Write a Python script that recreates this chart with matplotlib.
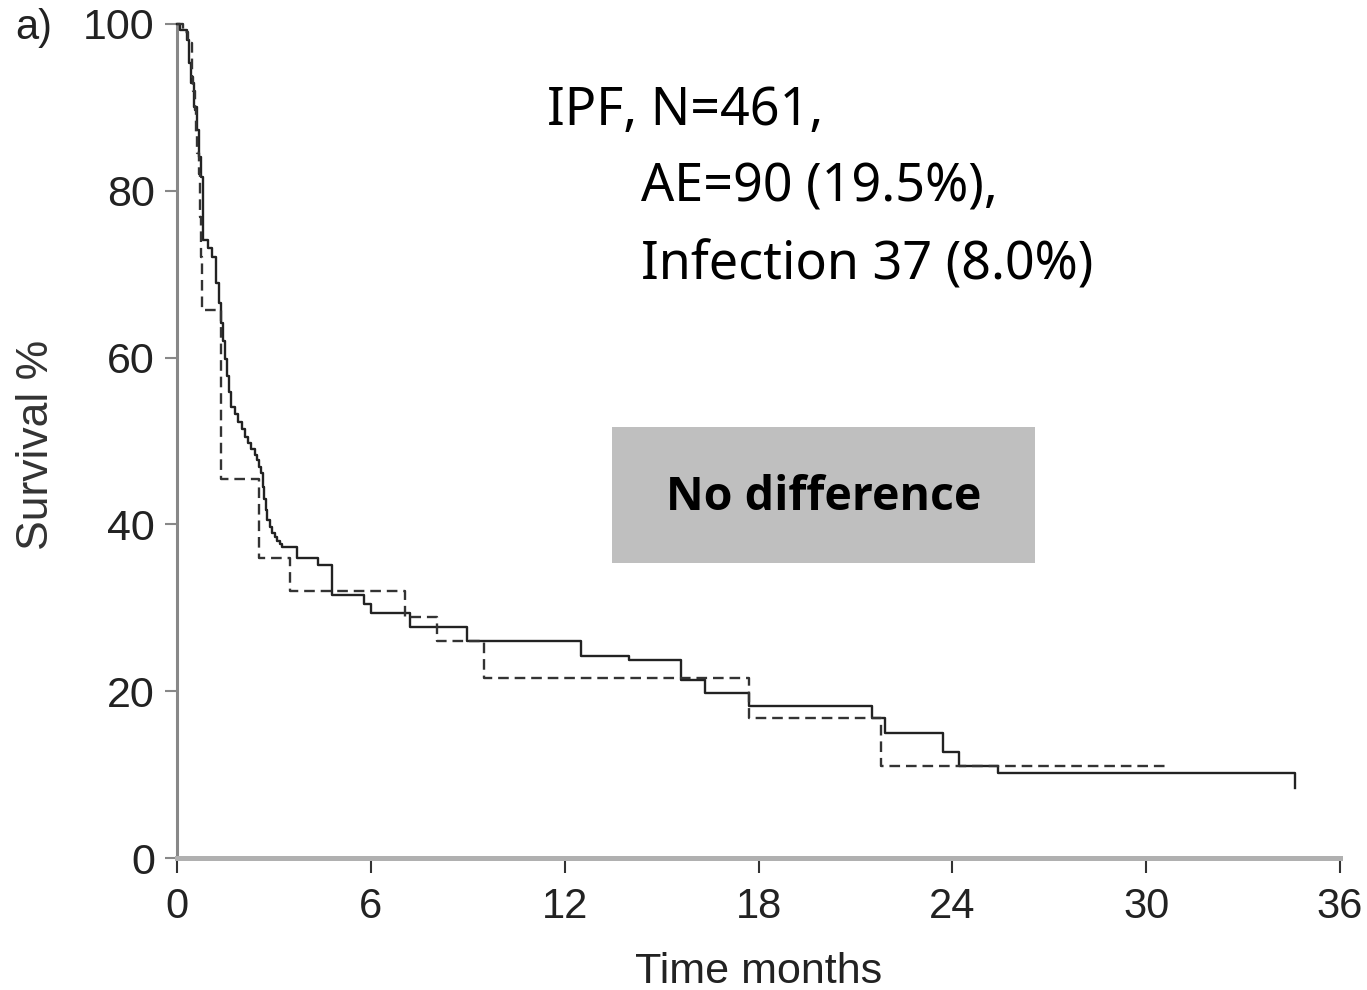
import matplotlib.pyplot as plt
from matplotlib.patches import Rectangle

# Kaplan-Meier style survival (%), values hold from each time until the next
ae_months = [0, 0.1, 0.3, 0.37, 0.44, 0.53, 0.62, 0.69, 0.75, 0.79, 0.8, 0.95,
             1.08, 1.2, 1.3, 1.37, 1.42, 1.48, 1.55, 1.61, 1.67, 1.78, 1.9, 2.0,
             2.1, 2.2, 2.3, 2.4, 2.48, 2.55, 2.6, 2.65, 2.7, 2.75, 2.79, 2.87,
             2.95, 3.03, 3.1, 3.18, 3.25, 3.7, 4.37, 4.8, 5.8, 6.0, 7.2, 8.98,
             12.5, 14.0, 15.6, 16.35, 17.7, 21.5, 21.9, 23.7, 24.2, 25.4, 34.6,
             34.6]
ae_surv = [100, 99.3, 98.1, 95.3, 92.9, 90.0, 87.3, 84.1, 81.7, 76.9, 74.1, 73.1,
           72.1, 68.9, 66.5, 64.1, 62.0, 59.8, 57.8, 55.9, 54.1, 53.2, 52.3, 51.4,
           50.5, 49.8, 49.0, 48.3, 47.7, 46.9, 46.2, 44.5, 43.0, 41.7, 40.5, 39.7,
           39.0, 38.5, 38.0, 37.6, 37.3, 36.0, 35.1, 31.5, 30.5, 29.4, 27.7, 26.0,
           24.2, 23.7, 21.3, 19.8, 18.2, 16.8, 15.0, 12.7, 11.0, 10.2, 10.2,
           8.4]

inf_months = [0, 0.2, 0.34, 0.45, 0.5, 0.56, 0.6, 0.63, 0.67, 0.7, 0.72, 0.74,
              0.77, 0.78, 1.36, 2.54, 3.5, 7.06, 8.05, 9.5, 17.7, 21.8, 30.6]
inf_surv = [100, 99.0, 97.7, 93.6, 92.0, 89.7, 87.0, 84.5, 82.0, 79.0, 76.9, 72.1,
            69.0, 65.7, 45.5, 36.0, 32.0, 28.9, 26.0, 21.6, 16.8, 11.0, 11.0]

xticks = [0, 6, 12, 18, 24, 30, 36]
yticks = [0, 20, 40, 60, 80, 100]

plt.rcParams['font.family'] = ['Liberation Sans', 'DejaVu Sans']

fig = plt.figure(figsize=(13.67, 9.9), dpi=100)
ax = fig.add_axes([0.1295, 0.1333, 0.8508, 0.8425])

ax.step(ae_months, ae_surv, where='post', color='#222222', lw=1.7,
        clip_on=False, zorder=3)
ax.step(inf_months, inf_surv, where='post', color='#333333', lw=1.7,
        dashes=(4.5, 2.5), clip_on=False, zorder=3)

ax.set_xlim(0, 36)
ax.set_ylim(0, 100)
ax.set_xticks(xticks)
ax.set_yticks(yticks)

for s in ['top', 'right']:
    ax.spines[s].set_visible(False)
ax.spines['left'].set_color('#888888')
ax.spines['left'].set_linewidth(2.2)
ax.spines['bottom'].set_color('#b0b0b0')
ax.spines['bottom'].set_linewidth(3.6)

ax.tick_params(axis='y', length=9, width=1.5, color='#888888', pad=7,
               labelsize=31, labelcolor='#222222')
ax.tick_params(axis='x', length=11, width=1.5, color='#333333', pad=10,
               labelsize=30, labelcolor='#222222')

ax.set_xlabel('Time months', fontsize=31, color='#222222')
ax.xaxis.set_label_coords(0.5, -0.113)
ax.set_ylabel('Survival %', fontsize=32, color='#333333')
ax.yaxis.set_label_coords(-0.103, 0.495)

fig.text(0.011, 0.972, 'a)', fontsize=30, color='#222222', va='center')

# summary text
ann = dict(fontsize=37.5, family=['Noto Sans', 'DejaVu Sans'], color='black')
fig.text(0.400, 0.874, 'IPF, N=461,', ha='left', va='baseline', **ann)
fig.text(0.469, 0.796, 'AE=90 (19.5%),', ha='left', va='baseline', **ann)
fig.text(0.469, 0.718, 'Infection 37 (8.0%)', ha='left', va='baseline', **ann)

# grey label box
box = Rectangle((612 / 1367, 1 - 563 / 990), (1035 - 612) / 1367, (563 - 427) / 990,
                transform=fig.transFigure, facecolor='#bfbfbf', edgecolor='none',
                zorder=1)
fig.patches.append(box)
fig.text(824 / 1367, 1 - 498 / 990, 'No difference', ha='center', va='center',
         fontsize=33.5, fontweight='bold', family=['Open Sans', 'DejaVu Sans'],
         color='black', zorder=2)

fig.savefig('out.png', dpi=100)
